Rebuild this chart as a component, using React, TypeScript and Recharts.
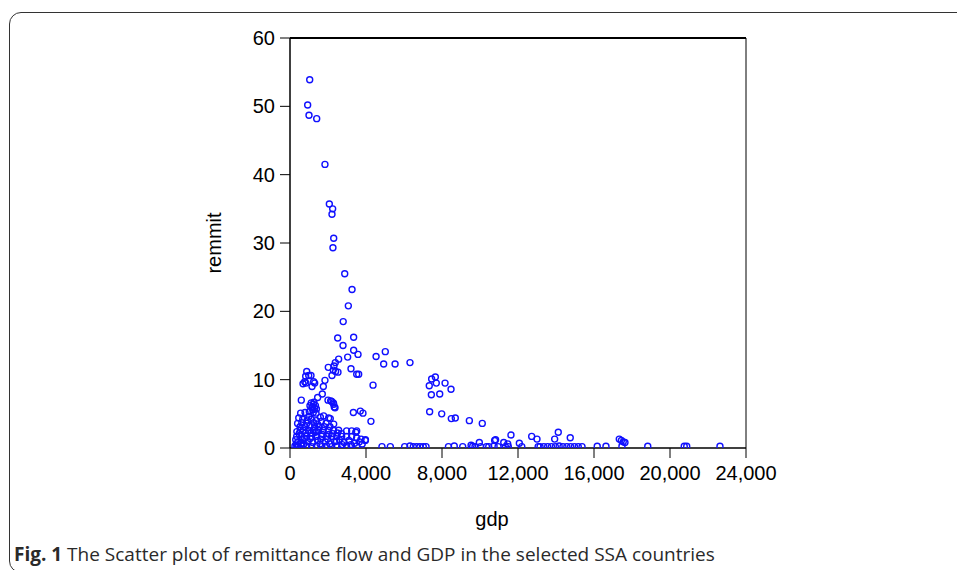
import React from 'react';
import { ScatterChart, Scatter, XAxis, YAxis, ReferenceLine } from 'recharts';

// [gdp, remmit] pairs
const peakPoints: number[][] = [
  [1037, 53.9], [930, 50.2], [1000, 48.7], [1405, 48.2], [1840, 41.5], [2070, 35.7], [2245, 35.0],
  [2210, 34.2], [2300, 30.7], [2260, 29.3], [2880, 25.5], [3265, 23.2], [3070, 20.8], [2800, 18.5],
  [2510, 16.1], [3350, 16.2], [2790, 15.0], [3350, 14.3], [3580, 13.7], [3035, 13.3], [2560, 13.0],
  [2385, 12.5], [2315, 12.0], [2015, 11.8], [3210, 11.6], [2280, 11.4], [2400, 11.2], [2525, 11.1],
  [2210, 10.6], [3510, 10.8], [3615, 10.8], [1840, 9.9], [1755, 9.0], [1700, 7.9], [1455, 7.4],
  [2000, 7.0], [2140, 6.9], [2280, 6.6], [2330, 6.0], [3335, 5.2], [3700, 5.4], [3840, 5.1], [4260, 3.9],
];

const midPoints: number[][] = [
  [4530, 13.4], [5015, 14.1], [4930, 12.3], [5530, 12.3], [6315, 12.5], [4370, 9.2], [7330, 9.1],
  [7455, 10.1], [7650, 10.4], [7700, 9.5], [8160, 9.5], [8475, 8.6], [7440, 7.8], [7880, 7.9],
  [7350, 5.3], [7985, 5.0], [8490, 4.3], [8700, 4.4], [9440, 4.0], [10120, 3.6], [11630, 1.9],
  [12720, 1.7], [13000, 1.3], [14120, 2.3], [13930, 1.3], [14750, 1.5], [9965, 0.8], [10770, 1.1],
  [10820, 1.2], [11250, 0.8], [11460, 0.6], [12070, 0.7], [17330, 1.3], [17440, 1.1], [17540, 0.9],
  [17630, 0.8],
];

const leftCluster: number[][] = [
  [880, 11.2], [825, 10.5], [985, 10.6], [1105, 10.6], [685, 9.4], [775, 9.7], [840, 9.5],
  [1245, 9.7], [1300, 9.5], [1160, 9.0], [595, 7.0], [2195, 6.8], [2300, 6.4], [2370, 5.9],
];

const lowCluster: number[][] = [
  [1050, 6.2], [1120, 6.6], [1180, 6.0], [1230, 6.4], [1290, 5.8], [1340, 6.2], [1200, 5.6], [1150, 5.9],
  [1260, 6.7], [1390, 5.7], [560, 5.1], [790, 5.2], [1015, 5.3], [1225, 5.2], [1370, 5.1], [1600, 4.5],
  [1770, 4.7], [2035, 4.4], [2120, 4.3], [670, 4.2], [910, 4.1], [1120, 4.2], [1385, 4.0],
  [525, 3.1], [790, 3.1], [1050, 3.2], [1300, 3.1], [1540, 3.1], [1805, 3.1], [2105, 3.1],
  [540, 2.6], [700, 2.6], [965, 2.6], [1225, 2.6], [1490, 2.6], [1750, 2.6], [2015, 2.6], [2280, 2.6],
  [2560, 2.6], [2980, 2.5], [3245, 2.5], [3510, 2.5], [350, 1.7], [615, 1.7], [880, 1.7], [1140, 1.7],
  [1405, 1.7], [1670, 1.7], [1930, 1.7], [2195, 1.7], [2460, 1.7], [2720, 1.7], [2980, 1.7], [3245, 1.7],
  [3510, 1.5], [3740, 1.3], [3965, 1.1], [3460, 2.3], [3970, 1.2],
  [420, 0.9], [480, 2.1], [650, 1.2], [730, 0.6], [820, 2.2], [950, 0.9], [1060, 1.4], [1200, 0.8],
  [1330, 2.3], [1450, 1.1], [1580, 0.6], [1700, 2.0], [1850, 0.9], [1980, 1.3], [2100, 0.6], [2250, 2.1],
  [2350, 0.9], [2600, 1.2], [2850, 0.8], [3100, 1.1], [3400, 0.7], [3650, 0.9], [400, 3.6], [460, 4.4],
  [620, 3.7], [880, 3.6], [1000, 4.6], [1250, 3.7], [1450, 3.5], [1650, 3.9], [1900, 3.6], [2300, 3.5],
  [2500, 2.2], [2700, 2.1], [360, 2.4], [300, 1.2], [330, 0.6], [380, 0.3], [440, 0.2], [600, 0.7],
  [760, 1.4], [1100, 2.2], [1400, 2.4], [1620, 1.3], [2050, 2.0], [2450, 1.0], [2750, 0.5], [3200, 0.5],
  [3800, 0.6],
];

const zeroBand: number[][] = [
  [260, 0.3], [370, 0.2], [630, 0.3], [880, 0.3], [1140, 0.2], [1400, 0.3], [1670, 0.2], [1930, 0.3],
  [2195, 0.2], [2460, 0.3], [2720, 0.2], [2980, 0.3], [3245, 0.2], [3510, 0.3], [4840, 0.2], [5280, 0.2],
  [6035, 0.2], [6315, 0.3], [6490, 0.2], [6665, 0.2], [6840, 0.2], [7015, 0.2], [7160, 0.2], [8340, 0.2],
  [8645, 0.3], [9090, 0.2], [9530, 0.4], [9615, 0.25], [9735, 0.2], [10030, 0.2], [10340, 0.2],
  [10460, 0.2], [10740, 0.3], [10950, 0.2], [11335, 0.2], [11490, 0.2], [12200, 0.2], [13060, 0.2],
  [13160, 0.2], [13360, 0.2], [13560, 0.2], [13760, 0.2], [13965, 0.2], [14165, 0.3], [14365, 0.2],
  [14570, 0.2], [14770, 0.2], [14970, 0.2], [15170, 0.2], [15370, 0.2], [16170, 0.25], [16630, 0.25],
  [17470, 0.25], [18830, 0.25], [20750, 0.25], [20880, 0.25], [22630, 0.25],
];

const xTicks = [0, 4000, 8000, 12000, 16000, 20000, 24000];
const yTicks = [0, 10, 20, 30, 40, 50, 60];
const xTitle = 'gdp';
const yTitle = 'remmit';
const captionBold = 'Fig. 1';
const captionText = ' The Scatter plot of remittance flow and GDP in the selected SSA countries';

const data = [...peakPoints, ...midPoints, ...leftCluster, ...lowCluster, ...zeroBand].map(([g, r]) => ({
  gdp: g,
  remmit: r,
}));

const AXIS_FONT = 'Liberation Sans, Arial, sans-serif';

const Dot = (props: any) => {
  const { cx, cy } = props;
  if (cx == null || cy == null) return null;
  return <circle cx={cx} cy={cy} r={3} fill="none" stroke="#1010ff" strokeWidth={1.4} />;
};

const YTitle = (props: any) => {
  const vb = props.viewBox || {};
  const x = vb.x - 9;
  const y = vb.y + vb.height / 2;
  return (
    <text
      x={x}
      y={y}
      transform={`rotate(-90, ${x}, ${y})`}
      textAnchor="middle"
      fontFamily={AXIS_FONT}
      fontSize={20}
      fill="#000"
    >
      {yTitle}
    </text>
  );
};

const XTitle = (props: any) => {
  const vb = props.viewBox || {};
  const x = vb.x + vb.width / 2 - 26;
  const y = vb.y + 78;
  return (
    <text x={x} y={y} textAnchor="middle" fontFamily={AXIS_FONT} fontSize={20} fill="#000">
      {xTitle}
    </text>
  );
};

export default function App() {
  return (
    <div style={{ position: 'absolute', left: 0, top: 0, width: 957, height: 570, background: '#fff', overflow: 'hidden' }}>
      <div
        style={{
          position: 'absolute',
          left: 9,
          top: 12,
          width: 1000,
          height: 559,
          border: '1.5px solid #333',
          borderRadius: 12,
        }}
      />
      <div style={{ position: 'absolute', left: 0, top: 0 }}>
        <ScatterChart width={957} height={570} margin={{ top: 38, right: 211, bottom: 92, left: 230 }}>
          <XAxis
            type="number"
            dataKey="gdp"
            domain={[0, 24000]}
            ticks={xTicks}
            interval={0}
            height={30}
            tickSize={10}
            tickMargin={8}
            tickFormatter={(v: number) => v.toLocaleString('en-US')}
            tick={{ fill: '#000', fontSize: 20, fontFamily: AXIS_FONT }}
            axisLine={{ stroke: '#000', strokeWidth: 1.5 }}
            tickLine={{ stroke: '#000', strokeWidth: 1 }}
            label={<XTitle />}
            allowDataOverflow
          />
          <YAxis
            type="number"
            dataKey="remmit"
            domain={[0, 60]}
            ticks={yTicks}
            interval={0}
            width={60}
            tickSize={10}
            tickMargin={5}
            tick={{ fill: '#000', fontSize: 20, fontFamily: AXIS_FONT }}
            axisLine={{ stroke: '#000', strokeWidth: 1.5 }}
            tickLine={{ stroke: '#000', strokeWidth: 1 }}
            label={<YTitle />}
            allowDataOverflow
          />
          <ReferenceLine y={60} stroke="#000" strokeWidth={2} />
          <ReferenceLine x={24000} stroke="#000" strokeWidth={1} />
          <Scatter data={data} shape={<Dot />} isAnimationActive={false} />
        </ScatterChart>
      </div>
      <div
        style={{
          position: 'absolute',
          left: 14,
          top: 542,
          fontFamily: '"Open Sans", sans-serif',
          fontSize: 19,
          color: '#2a2a2a',
          whiteSpace: 'nowrap',
          lineHeight: '24px',
        }}
      >
        <b>{captionBold}</b>
        {captionText}
      </div>
    </div>
  );
}
